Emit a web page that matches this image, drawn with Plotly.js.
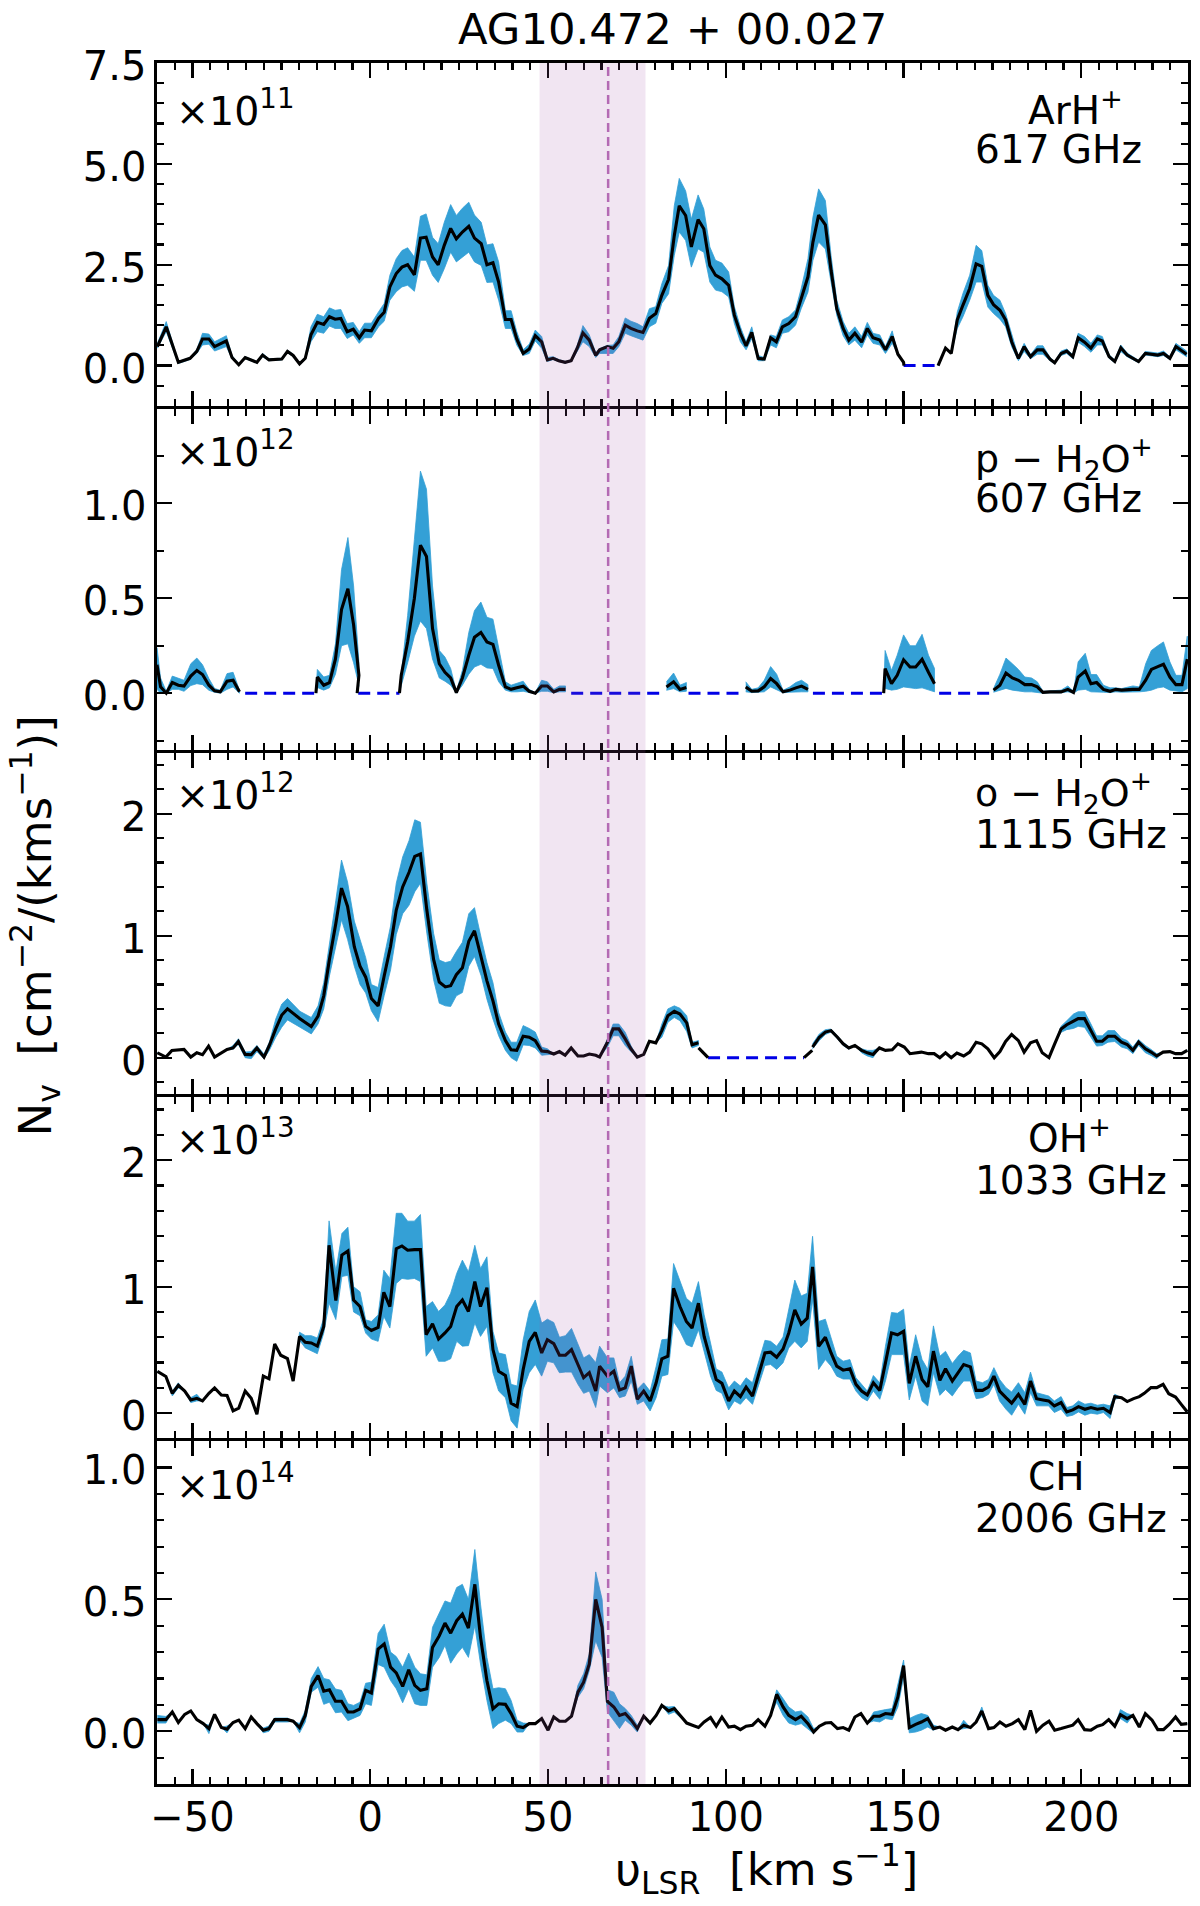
<!DOCTYPE html>
<html><head><meta charset="utf-8">
<script src="https://cdn.plot.ly/plotly-3.0.1.min.js"></script>
<style>html,body{margin:0;padding:0;background:#fff}</style></head>
<body><div id="chart" style="width:1200px;height:1906px"></div>
<script>
// rows: [velocity, value, lower, upper]; [v,null] marks a break in the line
const arhRows=[[-59.9,.47,.43,.55],[-57.4,.96,.84,1.09],[-54,.08,.05,.1],[-50.7,.18,.15,.2],[-48.8,.35,.3,.4],[-47.2,.66,.51,.8],[-45.4,.66,.53,.78],[-43.8,.47,.36,.59],[-40.5,.61,.47,.74],[-38.9,.2,.17,.25],[-37,.02,0,.04],[-35.2,.2,.17,.22],[-31.9,.08,.06,.1],[-30.3,.26,.22,.3],[-28.5,.14,.12,.17],[-24.9,.16,.14,.18],[-23.3,.35,.32,.38],[-21.7,.25,.22,.28],[-19.9,.04,.02,.06],[-18.3,.18,.15,.22],[-16.7,.76,.59,.96],[-14.9,1.07,.84,1.27],[-13.1,1.02,.8,1.21],[-11.5,1.21,.98,1.43],[-9.9,1.15,.92,1.37],[-8.3,1.17,.92,1.39],[-6.5,.84,.67,1.04],[-4.8,.9,.76,1.07],[-3.1,.69,.55,.84],[-1.6,.88,.69,1.05],[.3,.86,.69,1.05],[2.3,1.17,.96,1.33],[3.9,1.32,1.1,1.54],[5.5,1.95,1.62,2.24],[7.3,2.28,1.83,2.65],[8.9,2.44,1.95,2.85],[10.5,2.5,1.99,2.92],[12.4,2.25,1.84,2.69],[14.1,3.16,2.61,3.7],[15.7,3.18,2.61,3.76],[17.5,2.69,2.24,3.18],[19.1,2.5,2.06,3.02],[20.8,2.98,2.4,3.55],[22.6,3.4,2.81,3.99],[24.2,3.14,2.57,3.72],[25.9,3.31,2.69,3.9],[27.7,3.45,2.81,4.05],[29.3,3.16,2.57,3.73],[31.2,3.02,2.48,3.55],[32.8,2.5,2.06,2.99],[34.5,2.55,2.07,3.02],[36.1,2.07,1.62,2.57],[38,1.14,.92,1.36],[39.6,1.14,.92,1.36],[41.2,.66,.51,.84],[43,.3,.25,.39],[44.7,.41,.3,.53],[46.4,.74,.61,.88],[48.2,.59,.43,.72],[49.8,.14,.1,.2],[51.4,.18,.15,.22],[53,.12,.1,.15],[54.8,.08,.06,.1],[56.5,.12,.1,.14],[58.2,.43,.35,.5],[59.8,.81,.59,.99],[61.6,.63,.47,.76],[63.4,.25,.2,.32],[64.5,.39,.3,.42],[66.7,.47,.3,.5],[68.3,.43,.3,.51],[69.9,.59,.47,.72],[71.7,1,.8,1.18],[73.3,.92,.74,1.1],[75.1,.86,.69,1.04],[76.7,.82,.63,.96],[78.5,1.17,.96,1.41],[80.3,1.29,1.05,1.46],[82,1.74,1.54,2.03],[83.9,2.14,1.78,2.48],[85.5,3.22,2.73,3.96],[86.9,3.96,3.31,4.64],[88.7,3.72,3.1,4.33],[90.3,2.94,2.44,3.63],[92.2,3.62,2.89,4.23],[93.8,3.39,2.81,3.88],[95.5,2.48,2.07,2.94],[97.1,2.24,1.87,2.61],[98.9,2.15,1.83,2.54],[100.8,1.99,1.7,2.32],[102.4,1.25,1.04,1.46],[104.1,.8,.59,.96],[105.7,.49,.39,.59],[107.3,.82,.67,.96],[109.1,.18,.12,.25],[110.8,.16,.12,.2],[112.6,.69,.51,.76],[114.2,.59,.44,.72],[115.9,.96,.8,1.13],[117.7,1.04,.84,1.21],[119.6,1.21,1,1.38],[121.2,1.66,1.41,1.91],[123.1,2.2,1.82,2.65],[124.5,3.06,2.61,3.68],[126.1,3.73,3.06,4.38],[128,3.49,2.89,4.09],[129.6,2.36,2.07,2.73],[131.2,1.41,1.25,1.62],[133,.92,.74,1.09],[134.6,.63,.51,.8],[136.3,.8,.63,.96],[138.2,.58,.44,.72],[139.8,.92,.76,1.07],[141.4,.69,.55,.8],[143.3,.63,.51,.76],[144.9,.39,.3,.47],[146.8,.72,.55,.86],[148.4,.28,.28,.28],[150,.08,.08,.08],[150.1,0,0,0],[150.2,null],[159.6,null],[159.7,0,0,0],[161.8,.43,.43,.43],[163.4,.3,.3,.3],[165.1,1.13,.92,1.33],[166.7,1.5,1.21,1.79],[168.6,1.91,1.62,2.24],[170.4,2.52,2.07,2.98],[172,2.46,2.07,2.85],[173.7,1.74,1.45,1.99],[175.3,1.51,1.29,1.74],[177.1,1.37,1.15,1.62],[178.7,1.13,.96,1.29],[180.4,.59,.47,.76],[182.3,.18,.12,.22],[183.9,.47,.35,.55],[185.7,.22,.17,.27],[187.6,.39,.28,.49],[189.2,.39,.28,.49],[191.2,.16,.12,.2],[192.5,.07,.04,.1],[194.3,.3,.25,.36],[195.9,.36,.3,.41],[197.6,.22,.17,.27],[199.1,.69,.58,.8],[200.9,.58,.47,.72],[202.7,.43,.33,.55],[204.5,.66,.51,.76],[205.9,.61,.51,.72],[207.8,.22,.18,.27],[209.4,.1,.07,.14],[211.1,.44,.35,.51],[212.9,.26,.22,.31],[216.1,.1,.07,.13],[218,.3,.26,.35],[221.5,.26,.22,.31],[223.1,.3,.25,.36],[224.9,.18,.15,.22],[226.6,.47,.39,.55],[229.6,.28,.22,.36]];
const pH2ORows=[[-60,.15,.02,.24],[-59,.033,0,.08],[-57.4,0,0,.01],[-55.7,.056,.02,.09],[-54,.042,.02,.077],[-52.4,.037,.01,.068],[-50.5,.09,.04,.155],[-48.8,.12,.05,.185],[-47.2,.098,.045,.15],[-45.4,.042,.015,.077],[-43.8,.012,.005,.025],[-42.2,.007,0,.015],[-40.3,.063,.02,.103],[-38.6,.068,.033,.11],[-36.8,.007,0,.015],[-36.7,null],[-15.4,null],[-15.3,0,0,0],[-14.9,.085,.03,.125],[-13.1,.042,.016,.085],[-11.5,.056,.028,.094],[-9.8,.18,.1,.26],[-8.1,.44,.25,.65],[-6.3,.55,.26,.82],[-4.7,.36,.16,.565],[-3.2,.094,.04,.16],[-3.7,0,0,0],[-3.6,null],[8.1,null],[8.2,0,0,0],[8.7,.094,.04,.1],[10.5,.27,.16,.41],[12.4,.5,.3,.81],[14.1,.78,.38,1.17],[15.8,.72,.34,1.075],[17.5,.34,.18,.565],[19.4,.155,.08,.225],[21,.11,.063,.19],[22.6,.08,.042,.13],[24.2,.003,0,.01],[25.9,.08,.042,.12],[27.7,.2,.1,.32],[29.3,.295,.138,.435],[31.1,.32,.152,.48],[32.8,.27,.133,.4],[34.5,.257,.13,.39],[36.1,.147,.06,.234],[38,.033,.016,.06],[39.6,.02,.007,.042],[41.2,.028,.007,.05],[43,.037,.01,.063],[44.7,.01,.003,.02],[46.4,0,0,.003],[48.2,.038,.01,.068],[49.8,.038,.01,.06],[51.6,.007,.002,.02],[53.2,.02,.007,.038],[54.9,.02,.007,.038],[55,null],[83.2,null],[83.3,.033,.015,.06],[85.3,.06,.024,.106],[87.1,.02,.007,.042],[88.9,.03,.01,.056],[89,null],[105.5,null],[105.6,.033,.007,.06],[107.3,.01,.003,.02],[109.1,.012,.005,.028],[110.8,.033,.007,.068],[112.6,.077,.033,.14],[114.3,.05,.016,.1],[116.1,.007,.002,.015],[118,.016,.005,.033],[119.7,.028,.007,.056],[121.3,.037,.007,.068],[123.1,.02,.007,.045],[123.2,null],[144.3,null],[144.4,0,0,0],[144.8,.13,.025,.225],[146.6,.05,.016,.12],[148.2,.094,.02,.2],[150,.176,.033,.307],[151.8,.138,.028,.25],[153.4,.138,.024,.25],[155.2,.178,.028,.31],[157,.11,.016,.2],[158.7,.05,.007,.13],[158.8,null],[175.2,null],[175.3,.016,.005,.024],[177.1,.042,.016,.1],[178.8,.106,.025,.185],[180.6,.08,.016,.155],[182.3,.068,.01,.125],[184.1,.045,.007,.085],[186,.045,.007,.08],[187.6,.033,.003,.06],[189.2,.004,0,.01],[191.2,.007,.002,.012],[194.3,.007,.002,.016],[196.2,.02,.007,.038],[197.8,.004,0,.01],[199.1,.085,.016,.165],[201.1,.117,.02,.21],[202.7,.05,.007,.098],[204.3,.056,.007,.098],[206.2,.02,.005,.042],[208.1,.01,.003,.028],[209.7,.02,.007,.028],[211.3,.016,.005,.024],[214.5,.02,.005,.038],[216.3,.02,.007,.033],[218.1,.068,.01,.155],[219.7,.125,.016,.225],[221.5,.14,.028,.25],[223.1,.152,.033,.27],[224.9,.085,.016,.165],[226.6,.045,.01,.094],[228.3,.045,.007,.094],[229.8,.18,.024,.3]];
const oH2ORows=[[-59.9,.04],[-57.5,.005],[-55.8,.06],[-52.4,.068],[-50.5,.005],[-48.8,.04],[-47.2,.024],[-45.5,.095],[-43.8,.005],[-40.3,.068],[-38.6,.08,.07,.1],[-37.1,.133,.11,.155],[-35.2,.027,0,.046],[-33.5,.024,-.008,.05],[-31.9,.08,.05,.1],[-29.9,.005,-.008,.03],[-28.4,.1,.06,.127],[-26.6,.236,.168,.317],[-24.9,.35,.25,.44],[-23.3,.4,.31,.485],[-19.8,.32,.25,.38],[-16.6,.255,.195,.33],[-14.7,.34,.276,.425],[-13.1,.507,.4,.615],[-11.5,.805,.67,.94],[-9.7,1.1,.91,1.29],[-8.1,1.39,1.13,1.62],[-6.4,1.24,.97,1.44],[-4.5,.91,.75,1.12],[-2.9,.75,.6,.97],[-1.3,.66,.53,.82],[.3,.485,.385,.6],[2.2,.425,.295,.575],[3.9,.67,.51,.83],[5.7,.913,.72,1.08],[7.3,1.21,1.01,1.43],[9.1,1.4,1.18,1.645],[10.9,1.52,1.25,1.78],[12.5,1.65,1.36,1.95],[14.1,1.67,1.43,1.93],[15.9,1.21,1.02,1.43],[17.8,.805,.64,1.02],[19.4,.62,.447,.8],[21.1,.58,.425,.78],[22.6,.59,.42,.79],[24.2,.68,.507,.87],[25.9,.737,.534,.946],[27.7,.954,.75,1.18],[29.3,1.04,.83,1.23],[31.2,.82,.67,.98],[32.8,.63,.48,.78],[34.5,.466,.317,.615],[36.1,.276,.18,.37],[38,.14,.06,.21],[39.6,.065,0,.127],[41.2,.06,-.03,.127],[43,.176,.105,.263],[44.7,.168,.1,.24],[46.4,.14,.08,.21],[48.2,.054,.02,.087],[49.8,.05,.024,.073],[51.6,.03],[53.2,.05],[54.8,.02],[56.5,.08],[58.4,.014],[60,.014],[61.6,.03],[63.4,.02],[64.5,.005],[66.7,.127,.087,.154],[68.3,.236,.18,.276],[69.9,.236,.18,.276],[71.7,.154,.1,.208],[73.3,.073,.05,.1],[75.1,.005],[76.9,.027],[78.5,.135],[80.3,.122],[82,.222,.168,.276],[83.7,.344,.29,.4],[85.5,.38,.33,.425],[87.1,.358,.303,.405],[89,.285,.214,.344],[90.5,.106,.08,.127],[92.3,.122,.1,.14],[92.31,null],[92.32,null],[92.33,.08],[95,0],[95.1,null],[121.9,null],[122,0],[124.3,.06],[124.31,null],[124.32,null],[124.4,.087,.073,.114],[126.3,.168,.14,.195],[128,.21,.19,.23],[129.6,.222,.21,.235],[131.4,.168,.155,.18],[133,.114,.1,.127],[134.6,.08,.07,.09],[136.3,.1],[138.2,.06,.04,.073],[139.8,.04,.014,.06],[141.4,.027,0,.06],[143.2,.08],[144.9,.06],[146.8,.065],[148.4,.114],[150.2,.087],[151.8,.033],[155,.046],[157,.033],[158.6,.033],[160.2,0],[161.8,.04],[163.4,0],[165,.038],[166.9,.014],[168.6,.046],[170.4,.127],[172,.114],[173.7,.073],[175.5,0],[177.1,.05],[178.7,.133],[180.4,.19],[182.3,.14],[183.9,.046],[185.7,.122],[187.4,.14],[189,.04],[190.9,0],[192.5,.114],[194.3,.236,.208,.258],[195.9,.27,.23,.303],[197.8,.3,.24,.358],[199.1,.32,.257,.377],[200.9,.32,.249,.377],[202.7,.222,.168,.276],[204.3,.135,.095,.18],[205.9,.135,.1,.18],[207.5,.176,.127,.222],[209.4,.176,.133,.222],[211.3,.127,.087,.16],[212.9,.108,.073,.14],[214.5,.06,.033,.087],[216.1,.127,.1,.149],[218,.073,.041,.1],[219.6,.046,.019,.068],[221.2,.014,-.008,.033],[223,.046],[224.9,.05],[226.5,.033],[228.2,.033],[229.8,.06]];
const ohRows=[[-59.9,.33],[-57.5,.29],[-55.7,.157,.136,.175],[-54,.22,.2,.24],[-52.2,.175],[-50.5,.105,.084,.123],[-48.8,.118,.097,.149],[-47.2,.097],[-45.4,.157],[-43.8,.2],[-41.9,.144],[-40.3,.14],[-38.6,.018],[-37,.04],[-35.2,.175],[-33.5,.118],[-31.9,-.008],[-30.1,.293],[-28.5,.272],[-26.9,.547],[-25.2,.458],[-23.3,.432],[-21.7,.254],[-19.9,.607,.576,.64],[-18.3,.56,.516,.613],[-16.6,.555,.49,.613],[-14.9,.53,.47,.594],[-13.1,.686,.633,.75],[-11.6,1.327,.87,1.52],[-9.7,.89,.74,1.118],[-8,1.25,1.08,1.42],[-6.3,1.283,1.09,1.47],[-4.7,.895,.8,1],[-2.9,.843,.77,.96],[-1.3,.686,.633,.738],[.3,.654,.586,.725],[2.2,.678,.568,.777],[3.8,.956,.764,1.13],[5.5,.843,.673,1.065],[7.3,1.3,1.026,1.58],[8.9,1.322,1.065,1.58],[10.5,1.288,1.058,1.518],[12.4,1.293,1.065,1.518],[14.1,1.293,1.04,1.57],[15.7,.62,.45,.843],[17.5,.707,.516,.882],[19.2,.586,.41,.804],[21,.634,.41,.856],[22.6,.686,.43,.948],[24.3,.843,.568,1.105],[25.9,.895,.53,1.21],[27.6,.804,.534,1.118],[29.4,1.04,.712,1.327],[31,.843,.607,1.144],[32.8,.992,.686,1.236],[34.5,.503,.32,.647],[36.1,.332,.175,.476],[38,.298,.123,.463],[39.6,.079,-.06,.228],[41.3,.052,-.118,.215],[43,.346,.19,.58],[44.7,.568,.32,.804],[46.4,.639,.385,.895],[48.2,.476,.293,.712],[49.8,.581,.41,.743],[51.6,.55,.398,.717],[53.2,.458,.32,.6],[54.9,.458,.325,.613],[56.6,.503,.325,.67],[58.4,.385,.228,.54],[60,.28,.157,.437],[61.6,.32,.175,.463],[63.4,.175,.045,.4],[64.5,.372,.215,.53],[66.7,.293,.162,.437],[68.5,.332,.2,.437],[70.1,.183,.123,.24],[71.7,.2,.136,.293],[73.4,.372,.254,.45],[75.1,.11,.07,.188],[76.9,.175,.097,.24],[78.7,.097,.018,.175],[80.4,.24,.123,.37],[82,.43,.293,.58],[83.7,.45,.306,.586],[85.3,.987,.725,1.183],[87.1,.843,.647,1.052],[88.9,.725,.542,.908],[90.5,.673,.524,.869],[92.3,.869,.66,1.04],[93.9,.607,.476,.777],[95.7,.424,.293,.555],[97.3,.267,.18,.35],[98.9,.236,.157,.325],[100.8,.097,.026,.2],[102.4,.175,.097,.254],[104.1,.131,.07,.215],[105.7,.207,.123,.28],[107.5,.136,.07,.241],[109.1,.293,.215,.385],[111,.476,.377,.576],[112.6,.482,.385,.568],[114.3,.442,.346,.529],[116.1,.508,.398,.602],[117.7,.634,.516,.817],[119.4,.817,.568,1.052],[121.2,.704,.516,.927],[122.9,.751,.568,.948],[124.4,1.157,.895,1.398],[126.1,.529,.346,.725],[128,.6,.424,.743],[129.6,.476,.372,.594],[131.2,.372,.293,.45],[133,.34,.27,.411],[134.9,.351,.27,.424],[136.6,.228,.175,.28],[138.2,.175,.123,.228],[139.8,.144,.097,.175],[141.5,.24,.175,.298],[143.3,.18,.11,.24],[144.9,.398,.254,.529],[146.6,.634,.463,.796],[148.3,.62,.463,.79],[150,.647,.463,.822],[151.6,.236,.105,.372],[153.4,.45,.293,.62],[155.2,.267,.097,.424],[156.8,.209,.058,.346],[158.4,.49,.319,.69],[160.2,.26,.141,.45],[161.8,.351,.188,.489],[163.7,.254,.136,.393],[165.3,.319,.2,.45],[166.9,.385,.254,.497],[168.8,.366,.254,.476],[170.4,.18,.115,.254],[172.2,.18,.123,.241],[173.9,.207,.149,.267],[175.4,.293,.228,.36],[177,.175,.097,.267],[178.8,.123,.031,.202],[180.4,.079,-.016,.168],[182.3,.149,.071,.241],[184.1,.07,-.008,.162],[185.7,.254,.162,.325],[187.4,.115,.058,.162],[189.2,.105,.058,.149],[190.8,.097,.058,.136],[192.4,.058,.005,.097],[194.3,.084,.031,.131],[195.9,.01,-.026,.045],[197.6,.026,-.016,.058],[199.2,.052,.01,.097],[201,.031,-.016,.071],[202.7,.045,0,.079],[204.5,.031,-.008,.063],[206.2,.039,.005,.071],[208.1,.005,-.042,.058],[209.4,.131,.11,.149],[211.3,.123],[212.9,.092],[214.7,.115],[216.3,.131],[217.7,.157],[219.6,.202],[221.2,.202],[223,.228],[224.6,.154],[226.5,.128],[228.1,.07],[229.8,.01]];
const chRows=[[-59.9,.044,.031,.06],[-57.5,.044,.031,.056],[-55.7,.073],[-54,.033],[-52.2,.064],[-50.5,.077],[-48.8,.044],[-47,.029],[-45.4,.01,-.009,.023],[-43.8,.064],[-41.9,.014],[-40.3,.008,-.006,.02],[-38.6,.033],[-37,.042],[-35.2,.01],[-33.5,.054],[-31.9,.029],[-30.1,.004,-.006,.012],[-28.5,.01,0,.02],[-26.9,.044,.035,.05],[-23.3,.044,.035,.05],[-21.7,.038],[-19.9,.014,-.006,.029],[-18.3,.06,.035,.079],[-16.6,.17,.148,.2],[-14.7,.211,.167,.245],[-13.1,.152,.102,.2],[-11.5,.157,.11,.195],[-9.8,.114,.07,.16],[-8.1,.114,.073,.155],[-6.3,.073,.04,.104],[-4.7,.073,.048,.098],[-2.9,.085,.06,.11],[-1.3,.155,.104,.182],[.3,.145,.098,.186],[2.2,.312,.253,.371],[3.9,.331,.243,.406],[5.7,.243,.192,.3],[7.3,.221,.161,.283],[9.1,.17,.108,.243],[10.8,.233,.161,.296],[12.5,.174,.104,.243],[14.1,.155,.098,.218],[15.9,.161,.098,.214],[17.5,.318,.243,.394],[19.4,.362,.28,.45],[21,.41,.325,.494],[22.6,.372,.258,.486],[24.3,.419,.293,.545],[25.9,.444,.318,.557],[27.6,.391,.28,.5],[29.4,.557,.4,.689],[31,.356,.255,.482],[32.8,.192,.117,.28],[34.5,.085,.01,.161],[36.1,.104,.029,.165],[38,.102,.042,.161],[39.6,.067,.029,.117],[41.3,.019,-.003,.042],[43,.014,-.003,.031],[44.7,.029],[46.4,.029],[48.2,.048],[50,.004],[51.6,.054],[53.2,.038],[54.9,.038],[56.6,.057],[58.4,.148,.129,.174],[60,.186,.161,.218],[61.6,.255,.23,.293],[63.4,.5,.343,.604],[65.2,.394,.28,.5],[66.7,.113,.073,.157],[68.5,.092,.042,.148],[70.1,.06,.01,.104],[71.7,.067,.042,.086],[73.4,.042,.023,.06],[75.1,.01,-.003,.023],[76.9,.057],[78.7,.031],[80.4,.06],[82,.098],[83.9,.077,.064,.092],[85.5,.086,.073,.094],[89,.031],[90.6,.023],[92.3,.014],[93.9,.035],[95.7,.052],[97.3,.019],[98.9,.054],[100.8,.016],[102.4,.019],[104.1,.006],[105.7,.019],[107.5,.023],[109.1,.044],[111,.019],[112.6,.06],[114.3,.14,.11,.157],[116.1,.092,.06,.124],[117.7,.06,.031,.092],[119.6,.044,.023,.073],[121.2,.057,.029,.077],[123.1,.029,.01,.054],[124.7,-.003,-.009,.01],[126.3,.019],[128,.031],[129.6,.033],[131.4,.01],[133,.014],[134.6,.004],[136.3,.054],[138,.067],[139.8,.031],[141.6,.057,.039,.073],[143.3,.057,.035,.077],[144.9,.067,.048,.082],[146.8,.064,.044,.086],[148.4,.13,.092,.174],[150,.249,.205,.27],[151.6,.014,-.006,.048],[153.4,.026,-.003,.06],[155,.035,.004,.067],[156.8,.048,.016,.06],[158.4,.01,.004,.023],[160.2,.016],[161.8,.004],[163.7,.016],[165.3,.006],[166.9,.023,.01,.042],[168.8,.014],[170.4,.035],[172,.077,.06,.092],[173.9,.01],[175.4,.014],[177.1,.035],[178.8,.019],[180.6,.029],[182.3,.044],[184.1,.006],[185.7,.079],[187.4,0],[189.2,.023],[190.9,.038],[192.5,.004],[194.3,.01],[197.6,.023],[199.1,.044],[200.9,.006],[202.7,.004],[204.5,.019],[206,.025],[207.7,.044],[209.4,.019],[211,.063,.048,.082],[212.9,.048,.031,.067],[214.5,.06],[216.3,.016],[218,.067],[219.9,.042],[221.5,.006],[223.1,.006],[224.7,.026],[226.5,.054],[228.1,.026],[229.8,.029]];

const arhGaps=[[150,159.7]];
const pH2OGaps=[[-35.2,-15.3],[-3.4,8.2],[56.5,83.2],[89.5,105.5],[124.5,144.3],[160,175.1]];
const oH2OGaps=[[95,122]];
const ohGaps=[];
const chGaps=[];

const speciesLabels=['ArH<sup>+</sup>','p − H<sub>2</sub>O<sup>+</sup>','o − H<sub>2</sub>O<sup>+</sup>','OH<sup>+</sup>','CH'];
const lineLabels=['617 GHz','607 GHz','1115 GHz','1033 GHz','2006 GHz'];
const scaleLabels=['×10<sup>11</sup>','×10<sup>12</sup>','×10<sup>12</sup>','×10<sup>13</sup>','×10<sup>14</sup>'];
const yRanges=[[-1,7.5],[-.3,1.5],[-.3,2.5],[-.2,2.5],[-.2,1.1]];
const yTickVals=[[0,2.5,5,7.5],[0,.5,1],[0,1,2],[0,1,2],[0,.5,1]];
const yTickText=[['0.0','2.5','5.0','7.5'],['0.0','0.5','1.0'],['0','1','2'],['0','1','2'],['0.0','0.5','1.0']];
const yMinorStep=[.5,.25,.2,.2,.1];
const xRange=[-60,230];
const xTickVals=[-50,0,50,100,150,200];
const shadeBand=[47.6,77.4];
const systemVelocity=66.9;

const panels=[arhRows,pH2ORows,oH2ORows,ohRows,chRows];
const gapLists=[arhGaps,pH2OGaps,oH2OGaps,ohGaps,chGaps];

const BLUE='#34a0d6',FONT='"DejaVu Sans"';
const LW=2.6;
const W=1200,H=1906,L=156.5,R=1188.2,T=63.3,B=1784;
const PH=(B-T)/5;
const paperX=p=>(p-L)/(R-L), paperY=p=>(B-p)/(B-T);

const traces=[],layout={width:W,height:H,paper_bgcolor:'#fff',plot_bgcolor:'#fff',showlegend:false,
  margin:{l:L,r:W-R,t:T,b:H-B,pad:0},font:{family:FONT,color:'#000'},annotations:[],shapes:[]};

panels.forEach((rows,i)=>{
  const n=i+1,xa='x'+(n===1?'':n),ya='y'+(n===1?'':n);
  const lines=[];
  let seg=[];
  const flush=()=>{
    if(!seg.length)return;
    const lo=seg.map(r=>r[2]===undefined?r[1]:r[2]),hi=seg.map(r=>r[3]===undefined?r[1]:r[3]),xs=seg.map(r=>r[0]);
    traces.push({type:'scatter',mode:'lines',xaxis:xa,yaxis:ya,x:xs.concat(xs.slice().reverse()),y:lo.concat(hi.slice().reverse()),
      fill:'toself',fillcolor:BLUE,line:{color:BLUE,width:.8},hoverinfo:'skip'});
    lines.push({type:'scatter',mode:'lines',xaxis:xa,yaxis:ya,x:xs,y:seg.map(r=>r[1]),line:{color:'#000',width:3.1,simplify:false},hoverinfo:'skip'});
    seg=[];
  };
  rows.forEach(r=>{ if(r[1]===null) flush(); else seg.push(r); });
  flush();
  gapLists[i].forEach(g=>traces.push({type:'scatter',mode:'lines',xaxis:xa,yaxis:ya,x:g,y:[0,0],line:{color:'#0000e6',width:3,dash:'12px,7px'},hoverinfo:'skip'}));
  lines.forEach(t=>traces.push(t));

  const top=T+i*PH+(i>0?LW/2:0), bot=T+(i+1)*PH-(i<4?LW/2:0);
  const common={showline:true,linecolor:'#000',linewidth:LW,mirror:'allticks',ticks:'inside',tickcolor:'#000',tickwidth:2.2,ticklen:15,showgrid:false,zeroline:false,
    tickfont:{family:FONT,size:40,color:'#000'}};
  layout['xaxis'+(n===1?'':n)]=Object.assign({},common,{anchor:ya,range:xRange,tickmode:'array',tickvals:xTickVals,showticklabels:i===4,ticklabelstandoff:-4,
    minor:{dtick:5,tick0:0,ticks:'inside',ticklen:7,tickcolor:'#000',tickwidth:2.2,showgrid:false}});
  layout['yaxis'+(n===1?'':n)]=Object.assign({},common,{anchor:xa,range:yRanges[i],domain:[(B-bot)/(B-T),(B-top)/(B-T)],tickmode:'array',tickvals:yTickVals[i],ticktext:yTickText[i],ticklabelshift:3,
    minor:{dtick:yMinorStep[i],tick0:0,ticks:'inside',ticklen:7,tickcolor:'#000',tickwidth:2.2,showgrid:false}});
});

const ann=(text,px,py,size,extra)=>Object.assign({xref:'paper',yref:'paper',x:paperX(px),y:paperY(py),text,showarrow:false,xanchor:'left',yanchor:'middle',
  font:{family:FONT,size,color:'#000'},borderpad:0,borderwidth:0},extra||{});
const scaleY=[108,449,792,1137,1482];
const speciesY=[108,459,793,1136,1477];
const lineY=[150,499,835,1181,1519];
const speciesX=[1028,975,975,1028,1028];
scaleLabels.forEach((t,i)=>layout.annotations.push(ann(t,176,scaleY[i],39.5)));
speciesLabels.forEach((t,i)=>layout.annotations.push(ann(t,speciesX[i],speciesY[i],i===1||i===2?38:39)));
lineLabels.forEach((t,i)=>layout.annotations.push(ann(t,975,lineY[i],39)));
layout.annotations.push(ann('AG10.472 + 00.027',672,29,43.3,{xanchor:'center'}));
layout.annotations.push(ann('N<sub>v</sub>\u00a0\u00a0[cm<sup>−2</sup>/(kms<sup>−1</sup>)]',34,926,45,{xanchor:'center',textangle:-90}));
layout.annotations.push(ann('υ<sub>LSR</sub>\u00a0\u00a0[km s<sup>−1</sup>]',766,1869,45,{xanchor:'center'}));

layout.shapes.push({type:'rect',layer:'above',xref:'x',yref:'paper',x0:shadeBand[0],x1:shadeBand[1],y0:0,y1:1,fillcolor:'rgb(158,79,168)',opacity:.15,line:{width:0}});
layout.shapes.push({type:'line',layer:'above',xref:'x',yref:'paper',x0:systemVelocity,x1:systemVelocity,y0:0,y1:1,line:{color:'#b46ab4',width:2.5,dash:'9px,5px'}});

Plotly.newPlot('chart',traces,layout,{staticPlot:true,displayModeBar:false});
</script></body></html>
